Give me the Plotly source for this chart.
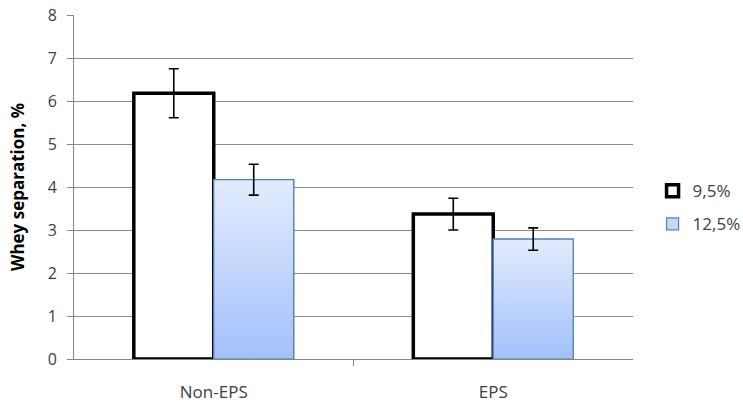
import plotly.graph_objects as go

categories = ["Non-EPS", "EPS"]
series_names = ["9,5%", "12,5%"]
values_95 = [6.18, 3.37]
values_125 = [4.17, 2.79]
err_95 = [0.57, 0.37]
err_125 = [0.36, 0.26]
y_ticks = [0, 1, 2, 3, 4, 5, 6, 7, 8]

idx = list(range(len(categories)))
w = 0.286

fig = go.Figure()

fig.add_trace(go.Bar(
    x=idx, y=values_95, width=w, offset=-w, name=series_names[0],
    legendgroup="a",
    marker=dict(color="white", line=dict(color="black", width=3.5)),
    hoverinfo="skip",
))
fig.add_trace(go.Bar(
    x=idx, y=values_125, width=w, offset=0, name=series_names[1],
    legendgroup="b",
    marker=dict(color="#C6D8FB", line=dict(color="#4F81BD", width=1.2)),
    hoverinfo="skip",
))

# gradient fill overlay for the 12,5% bars
for c, v in zip(idx, values_125):
    fig.add_trace(go.Scatter(
        x=[c, c, c + w, c + w, c], y=[0, v, v, 0, 0],
        mode="lines", fill="toself",
        fillgradient=dict(type="vertical",
                          colorscale=[[0, "#A2C0FA"], [1, "#E3ECFD"]]),
        line=dict(color="#4F81BD", width=1.2),
        showlegend=False, hoverinfo="skip",
    ))

# error bars
fig.add_trace(go.Scatter(
    x=[c - w / 2 for c in idx], y=values_95, mode="markers",
    marker=dict(size=1, opacity=0),
    error_y=dict(type="data", array=err_95, color="black", thickness=1.6, width=5),
    showlegend=False, hoverinfo="skip",
))
fig.add_trace(go.Scatter(
    x=[c + w / 2 for c in idx], y=values_125, mode="markers",
    marker=dict(size=1, opacity=0),
    error_y=dict(type="data", array=err_125, color="black", thickness=1.6, width=5),
    showlegend=False, hoverinfo="skip",
))

fig.update_layout(
    width=743, height=403,
    margin=dict(l=74, r=110, t=15, b=44, autoexpand=False),
    plot_bgcolor="white", paper_bgcolor="white",
    barmode="overlay",
    font=dict(family="Open Sans, Liberation Sans, sans-serif", color="#404040", size=15),
    legend=dict(x=1.035, y=0.44, xanchor="left", yanchor="middle",
                font=dict(size=17, color="#404040"), traceorder="grouped",
                tracegroupgap=8, itemwidth=30),
    showlegend=True,
)
fig.update_xaxes(
    range=[-0.5, 1.5], tickvals=idx, ticktext=categories,
    ticks="", showgrid=False, zeroline=False, automargin=False,
    showline=True, linecolor="#868686", linewidth=1,
    tickfont=dict(size=17, color="#404040"),
    ticklabelstandoff=18,
    minor=dict(tickvals=[0.5], ticks="outside", ticklen=6, tickcolor="#868686"),
)
fig.update_yaxes(
    range=[0, 8], tickvals=y_ticks, automargin=False,
    showgrid=True, gridcolor="#8C8C8C", gridwidth=1,
    zeroline=False, showline=True, linecolor="#868686", linewidth=1,
    ticks="outside", ticklen=6, tickcolor="#868686",
    tickfont=dict(size=16, color="#404040"),
    ticklabelstandoff=7,
    title=dict(text="<b>Whey separation, %</b>", font=dict(size=17, color="black"), standoff=18),
)

fig.write_html("out.html", config={"displayModeBar": False},
               post_script="document.body.style.margin='0px';")
